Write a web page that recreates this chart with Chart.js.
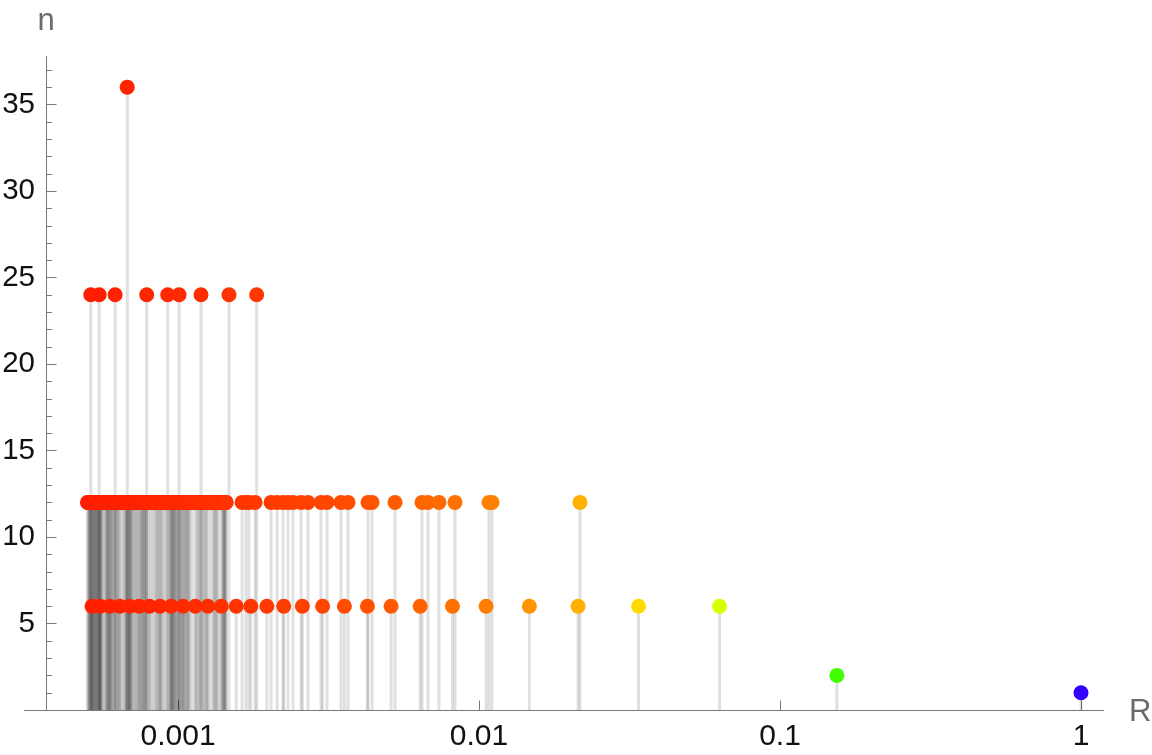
<!DOCTYPE html>
<html><head><meta charset="utf-8">
<script src="https://cdn.jsdelivr.net/npm/chart.js@4.4.1/dist/chart.umd.min.js"></script>
<style>html,body{margin:0;padding:0;background:#fff;overflow:hidden}</style>
</head><body>
<canvas id="c" width="1152" height="755"></canvas>
<script>
// ---- data (R values per multiplicity row n) ----
const rowN1 = [1];
const rowN2 = [0.1545];
const rowN6 = [0.000518, 0.000551, 0.000593, 0.000641, 0.000690, 0.000742, 0.000803, 0.000871, 0.000948, 0.001038,
  0.001141, 0.001256, 0.001392, 0.001561, 0.001745, 0.001973, 0.002245, 0.002589, 0.003022, 0.003570,
  0.004258, 0.005103, 0.006375, 0.008163, 0.010556, 0.014699, 0.021337, 0.033884, 0.062965];
const rowN12 = [0.000500, 0.000503, 0.000506, 0.000508,
  0.000510, 0.000512, 0.000514, 0.000516, 0.000518, 0.000520, 0.000522, 0.000524, 0.000526, 0.000528,
  0.000530, 0.000532, 0.000534, 0.000536, 0.000538, 0.000540, 0.000542, 0.000544, 0.000546, 0.000548,
  0.000550, 0.000552, 0.000554, 0.000556, 0.000558,
  0.000564, 0.000570,
  0.000576, 0.000578, 0.000581, 0.000583, 0.000586, 0.000588, 0.000591, 0.000594, 0.000597, 0.000600, 0.000602,
  0.000607, 0.000611, 0.000615, 0.000619, 0.000623, 0.000627, 0.000631, 0.000635, 0.000639,
  0.000648, 0.000656, 0.000663,
  0.000669, 0.000672, 0.000675, 0.000678, 0.000681, 0.000684, 0.000687, 0.000690, 0.000693, 0.000696, 0.000699, 0.000702,
  0.000708, 0.000714, 0.000720, 0.000726, 0.000732, 0.000738, 0.000744,
  0.000751, 0.000755, 0.000759, 0.000763, 0.000767, 0.000771, 0.000775, 0.000779, 0.000783, 0.000787,
  0.000797, 0.000808, 0.000820, 0.000831,
  0.000842, 0.000849, 0.000856, 0.000863, 0.000870, 0.000877, 0.000883,
  0.000893, 0.000905, 0.000917, 0.000929, 0.000938,
  0.000944, 0.000948, 0.000952, 0.000956, 0.000960, 0.000964, 0.000968, 0.000972, 0.000976,
  0.000982, 0.000988, 0.000994, 0.001000, 0.001006, 0.001012, 0.001019, 0.001026, 0.001033, 0.001040,
  0.001047, 0.001054, 0.001061, 0.001068, 0.001075, 0.001082, 0.001089, 0.001096,
  0.001118,
  0.001145, 0.001156, 0.001167, 0.001178, 0.001189, 0.001200, 0.001211, 0.001222, 0.001233, 0.001244, 0.001255,
  0.001280,
  0.001305, 0.001315, 0.001325, 0.001335, 0.001345, 0.001355,
  0.001380,
  0.001404, 0.001410, 0.001416, 0.001422, 0.001428, 0.001434, 0.001440, 0.001446,
  0.001632, 0.001682, 0.001721, 0.001803, 0.002037, 0.002133, 0.002233, 0.002320, 0.002410, 0.002563,
  0.002703, 0.002986, 0.003126, 0.003479, 0.003671, 0.004278, 0.004410, 0.005260, 0.006466, 0.006769,
  0.007363, 0.008322, 0.010795, 0.011045, 0.02165];
const rowN24 = [0.000513, 0.000547, 0.000618, 0.000787, 0.000924, 0.001008, 0.001192, 0.001477, 0.001825];
const rowN36 = [0.000678];
const rowLevels = [1, 2, 6, 12, 24, 36];

const xTickValues = [0.001, 0.01, 0.1, 1];
const xTickLabels = ['0.001', '0.01', '0.1', '1'];
const yTickValues = [5, 10, 15, 20, 25, 30, 35];
const yTickLabels = ['5', '10', '15', '20', '25', '30', '35'];
const xAxisTitle = 'R';
const yAxisTitle = 'n';

// ---- styles ----
const FONT = '"Liberation Sans", Arial, sans-serif';
const AXIS = '#7a7a7a';
const X_MIN = 0.0003642, X_MAX = 1.1834, Y_MIN = 0, Y_MAX = 37.8;
const X_AXIS_EXT_LEFT = 24; // x-axis line starts left of the y-axis

function hueColor(r) {
  const h = 252 * Math.pow(r, 0.47);
  return 'hsl(' + h.toFixed(1) + ',100%,50%)';
}

const rows = [rowN1, rowN2, rowN6, rowN12, rowN24, rowN36];
const pointSets = rows.map((xs, i) => xs.map(v => ({x: v, y: rowLevels[i]})));

const stemData = [];
pointSets.forEach(set => set.forEach(p => {
  stemData.push({x: p.x, y: 0}, {x: p.x, y: p.y}, {x: p.x, y: null});
}));

const datasets = [{
  type: 'line',
  data: stemData,
  borderColor: 'rgba(0,0,0,0.12)',
  borderWidth: 3,
  pointRadius: 0,
  spanGaps: false,
  segment: {},
  order: 10
}];
pointSets.forEach((set) => {
  datasets.push({
    type: 'scatter',
    data: set,
    pointRadius: 7.5,
    pointHoverRadius: 7.5,
    borderWidth: 0,
    pointBorderWidth: 0,
    backgroundColor: c => hueColor(c.raw ? c.raw.x : 1),
    order: 1
  });
});

const axisDecor = {
  id: 'axisDecor',
  beforeDatasetsDraw(chart) {
    const {ctx, scales: {x, y}, chartArea} = chart;
    const x0 = Math.round(chartArea.left) + 0.5;
    const y0 = Math.round(y.getPixelForValue(0)) + 0.5;
    ctx.save();
    ctx.strokeStyle = AXIS;
    ctx.lineWidth = 1;
    ctx.beginPath();
    ctx.moveTo(X_AXIS_EXT_LEFT, y0); ctx.lineTo(x0, y0);
    xTickValues.forEach(v => {
      const px = Math.round(x.getPixelForValue(v)) + 0.5;
      ctx.moveTo(px, y0); ctx.lineTo(px, y0 - 10);
    });
    for (let v = 1; v <= Math.floor(Y_MAX); v++) {
      const py = Math.round(y.getPixelForValue(v)) + 0.5;
      const len = (v % 5 === 0) ? 10 : 5.5;
      ctx.moveTo(x0, py); ctx.lineTo(x0 + len, py);
    }
    ctx.stroke();
    ctx.restore();
  },
  afterDraw(chart) {
    const {ctx, scales: {x, y}, chartArea} = chart;
    const y0 = y.getPixelForValue(0);
    ctx.save();
    ctx.fillStyle = '#6b6b6b';
    ctx.font = '31px ' + FONT;
    ctx.textBaseline = 'alphabetic';
    ctx.textAlign = 'center';
    ctx.fillText(yAxisTitle, chartArea.left, chartArea.top - 26);
    ctx.textAlign = 'left';
    ctx.fillText(xAxisTitle, chartArea.right + 26, y0 + 11);
    ctx.restore();
  }
};

new Chart(document.getElementById('c'), {
  data: {datasets},
  options: {
    responsive: false,
    animation: false,
    devicePixelRatio: 1,
    layout: {padding: {left: 0, right: 49, top: 56, bottom: 0}},
    plugins: {legend: {display: false}, tooltip: {enabled: false}},
    events: [],
    scales: {
      x: {
        type: 'logarithmic',
        position: 'bottom',
        min: X_MIN, max: X_MAX,
        bounds: 'data',
        grid: {display: false, drawTicks: false},
        border: {display: true, color: AXIS, width: 1},
        afterBuildTicks: s => { s.ticks = xTickValues.map(v => ({value: v})); },
        afterFit: s => { s.height = 45; },
        ticks: {
          autoSkip: false, maxRotation: 0,
          padding: 9,
          color: '#111',
          font: {family: FONT, size: 30},
          callback: (v) => xTickLabels[xTickValues.indexOf(v)] ?? ''
        }
      },
      y: {
        type: 'linear',
        position: 'left',
        min: Y_MIN, max: Y_MAX,
        bounds: 'data',
        grid: {display: false, drawTicks: false},
        border: {display: true, color: AXIS, width: 1},
        afterBuildTicks: s => { s.ticks = yTickValues.map(v => ({value: v})); },
        afterFit: s => { s.width = 46; },
        ticks: {
          autoSkip: false,
          padding: 11,
          color: '#111',
          font: {family: FONT, size: 29.5},
          callback: (v) => yTickLabels[yTickValues.indexOf(v)] ?? ''
        }
      }
    }
  },
  plugins: [axisDecor]
});
</script>
</body></html>
